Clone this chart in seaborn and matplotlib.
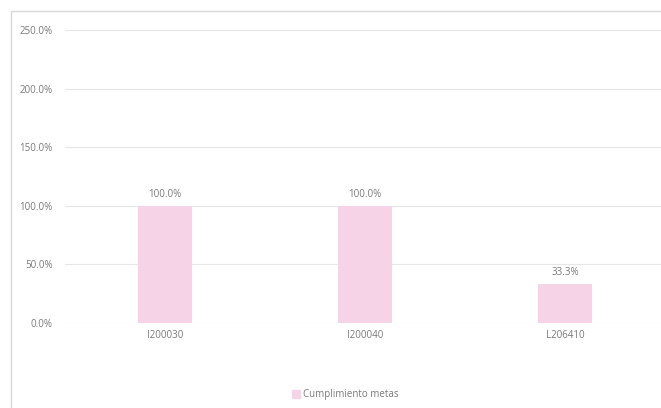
import matplotlib
matplotlib.use("Agg")
import matplotlib.pyplot as plt
import matplotlib.patches as mpatches
import seaborn as sns
import pandas as pd

categories = ["I200030", "I200040", "L206410"]
values = [100.0, 100.0, 33.3]
series_name = "Cumplimiento metas"
yticks = [0, 50, 100, 150, 200, 250]

sns.set_theme(style="white")
plt.rcParams['font.family'] = ['Open Sans', 'DejaVu Sans']

bar_color = "#F6D3E7"
text_color = "#7A7A7A"
fs = 7.0

fig = plt.figure(figsize=(6.61, 4.08), dpi=100)
ax = fig.add_axes([65/661, 1-323/408, 600/661, (323-30)/408])

df = pd.DataFrame({"cat": categories, "val": values})
sns.barplot(data=df, x="cat", y="val", color=bar_color, width=0.27,
            saturation=1, ax=ax, label=series_name, linewidth=0, edgecolor="none")

ax.set_ylim(0, 250)
ax.set_xlim(-0.5, 2.5)
ax.set_yticks(yticks)
ax.set_yticklabels([f"{t:.1f}%" for t in yticks], fontsize=fs, color=text_color)
ax.set_xticks(range(len(categories)))
ax.set_xticklabels(categories, fontsize=fs, color=text_color)
ax.tick_params(axis='y', length=0, pad=9)
ax.tick_params(axis='x', length=0, pad=5)
ax.yaxis.grid(True, color="#E6E6E6", linewidth=0.8)
ax.set_axisbelow(True)
for s in ax.spines.values():
    s.set_visible(False)
ax.set_xlabel("")
ax.set_ylabel("")

for i, v in enumerate(values):
    ax.annotate(f"{v:.1f}%", (i, v), xytext=(0, 4), textcoords="offset points",
                ha="center", va="bottom", fontsize=fs, color=text_color)

if ax.get_legend() is not None:
    ax.get_legend().remove()
handle = mpatches.Patch(color=bar_color, label=series_name)
fig.legend(handles=[handle], loc="center", bbox_to_anchor=(345/661, 1-395/408),
           frameon=False, fontsize=fs, labelcolor=text_color,
           handlelength=0.8, handleheight=0.8, handletextpad=0.3)

border = mpatches.Rectangle((11/661, -0.05), 1.2, 1-11/408+0.05, transform=fig.transFigure,
                            fill=False, edgecolor="#D9D9D9", linewidth=1.0, zorder=0)
fig.patches.append(border)

fig.savefig("out.png", dpi=100)
